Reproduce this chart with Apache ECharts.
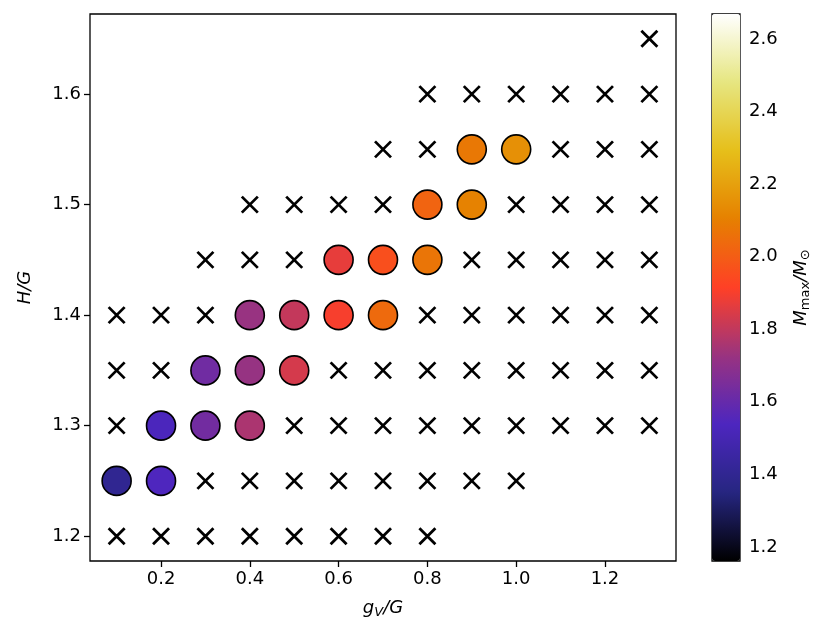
<!DOCTYPE html>
<html>
<head>
<meta charset="utf-8">
<script src="https://cdn.jsdelivr.net/npm/echarts@6/dist/echarts.min.js"></script>
<style>
  html, body { margin: 0; padding: 0; background: #fff; }
  #chart { width: 830px; height: 640px; }
</style>
</head>
<body>
<div id="chart"></div>
<script>
// 没有收敛的参数点 (x 标记)
var crossPoints = [
  [0.1, 1.2], [0.2, 1.2], [0.3, 1.2], [0.4, 1.2], [0.5, 1.2], [0.6, 1.2], [0.7, 1.2], [0.8, 1.2],
  [0.3, 1.25], [0.4, 1.25], [0.5, 1.25], [0.6, 1.25], [0.7, 1.25], [0.8, 1.25], [0.9, 1.25], [1.0, 1.25],
  [0.1, 1.3], [0.5, 1.3], [0.6, 1.3], [0.7, 1.3], [0.8, 1.3], [0.9, 1.3], [1.0, 1.3], [1.1, 1.3], [1.2, 1.3], [1.3, 1.3],
  [0.1, 1.35], [0.2, 1.35], [0.6, 1.35], [0.7, 1.35], [0.8, 1.35], [0.9, 1.35], [1.0, 1.35], [1.1, 1.35], [1.2, 1.35], [1.3, 1.35],
  [0.1, 1.4], [0.2, 1.4], [0.3, 1.4], [0.8, 1.4], [0.9, 1.4], [1.0, 1.4], [1.1, 1.4], [1.2, 1.4], [1.3, 1.4],
  [0.3, 1.45], [0.4, 1.45], [0.5, 1.45], [0.9, 1.45], [1.0, 1.45], [1.1, 1.45], [1.2, 1.45], [1.3, 1.45],
  [0.4, 1.5], [0.5, 1.5], [0.6, 1.5], [0.7, 1.5], [1.0, 1.5], [1.1, 1.5], [1.2, 1.5], [1.3, 1.5],
  [0.7, 1.55], [0.8, 1.55], [1.1, 1.55], [1.2, 1.55], [1.3, 1.55],
  [0.8, 1.6], [0.9, 1.6], [1.0, 1.6], [1.1, 1.6], [1.2, 1.6], [1.3, 1.6],
  [1.3, 1.65]
];

// 收敛点: [gV/G, H/G, Mmax/Msun]
var circlePoints = [
  [0.1, 1.25, 1.40], [0.2, 1.25, 1.54],
  [0.2, 1.3, 1.53], [0.3, 1.3, 1.63], [0.4, 1.3, 1.76],
  [0.3, 1.35, 1.625], [0.4, 1.35, 1.72], [0.5, 1.35, 1.835],
  [0.4, 1.4, 1.725], [0.5, 1.4, 1.805], [0.6, 1.4, 1.90], [0.7, 1.4, 2.04],
  [0.6, 1.45, 1.87], [0.7, 1.45, 1.96], [0.8, 1.45, 2.07],
  [0.8, 1.5, 2.02], [0.9, 1.5, 2.11],
  [0.9, 1.55, 2.08], [1.0, 1.55, 2.15]
];

var xTicks = [0.2, 0.4, 0.6, 0.8, 1.0, 1.2];
var yTicks = [1.2, 1.3, 1.4, 1.5, 1.6];
var cbarTicks = [1.2, 1.4, 1.6, 1.8, 2.0, 2.2, 2.4, 2.6];
var cbarMin = 1.161, cbarMax = 2.669;
// CMRmap
var cmrColors = ['#000000', '#262680', '#4d26bf', '#993380', '#ff4026', '#e68000', '#e6bf1a', '#e6e680', '#ffffff'];

var myChart = echarts.init(document.getElementById('chart'));

var font = 'DejaVu Sans';
var fmt = function (v) { return v.toFixed(1); };

var option = {
  animation: false,
  textStyle: { fontFamily: font, color: '#000' },
  grid: [
    { left: 90, top: 14, width: 586, height: 547, show: true, borderColor: '#000', borderWidth: 1.3, backgroundColor: 'transparent' },
    { left: 712, top: 14, width: 28, height: 547, show: true, borderColor: '#000', borderWidth: 1.3, backgroundColor: 'transparent' }
  ],
  xAxis: [
    {
      type: 'value', gridIndex: 0, min: 0.04, max: 1.36,
      splitLine: { show: false },
      axisLine: { show: false },
      axisTick: { show: true, length: 6, lineStyle: { color: '#000', width: 1.3 }, customValues: xTicks },
      axisLabel: { customValues: xTicks, formatter: fmt, fontSize: 18, color: '#000', margin: 9, fontFamily: font },
      name: '{i|g}{s|V}{n|/}{i|G}',
      nameLocation: 'middle',
      nameGap: 36,
      nameTextStyle: {
        rich: {
          i: { fontSize: 18, fontStyle: 'italic', fontFamily: font, lineHeight: 22, verticalAlign: 'middle' },
          n: { fontSize: 18, fontStyle: 'italic', fontFamily: font, lineHeight: 22, verticalAlign: 'middle' },
          s: { fontSize: 13, fontStyle: 'italic', fontFamily: font, lineHeight: 13, verticalAlign: 'bottom' }
        }
      }
    },
    { type: 'value', gridIndex: 1, min: 0, max: 1, show: false }
  ],
  yAxis: [
    {
      type: 'value', gridIndex: 0, min: 1.1775, max: 1.6725,
      splitLine: { show: false },
      axisLine: { show: false },
      axisTick: { show: true, length: 6, lineStyle: { color: '#000', width: 1.3 }, customValues: yTicks },
      axisLabel: { customValues: yTicks, formatter: fmt, fontSize: 18, color: '#000', margin: 9, fontFamily: font },
      name: 'H/G',
      nameLocation: 'middle',
      nameGap: 56,
      nameRotate: 90,
      nameTextStyle: { fontSize: 18, fontStyle: 'italic', fontFamily: font, color: '#000' }
    },
    {
      type: 'value', gridIndex: 1, min: cbarMin, max: cbarMax, position: 'right',
      splitLine: { show: false },
      axisLine: { show: false },
      axisTick: { show: true, length: 6, lineStyle: { color: '#000', width: 1.3 }, customValues: cbarTicks },
      axisLabel: { customValues: cbarTicks, formatter: fmt, fontSize: 18, color: '#000', margin: 9, fontFamily: font },
      name: '{i|M}{s|max}{n|/}{i|M}{s|⊙}',
      nameLocation: 'middle',
      nameGap: 50,
      nameRotate: 90,
      nameTextStyle: {
        rich: {
          i: { fontSize: 18, fontStyle: 'italic', fontFamily: font, lineHeight: 22, verticalAlign: 'middle' },
          n: { fontSize: 18, fontStyle: 'italic', fontFamily: font, lineHeight: 22, verticalAlign: 'middle' },
          s: { fontSize: 13, fontFamily: font, lineHeight: 13, verticalAlign: 'bottom' }
        }
      }
    }
  ],
  visualMap: {
    type: 'continuous',
    show: true,
    seriesIndex: 1,
    dimension: 2,
    min: cbarMin,
    max: cbarMax,
    calculable: false,
    orient: 'vertical',
    left: 712,
    top: 14,
    itemWidth: 28,
    itemHeight: 547,
    padding: 0,
    text: null,
    showLabel: false,
    inRange: { color: cmrColors }
  },
  series: [
    {
      name: 'cross',
      type: 'scatter',
      xAxisIndex: 0, yAxisIndex: 0,
      symbol: 'path://M0,0L10,10M10,0L0,10',
      symbolSize: 16,
      itemStyle: { color: 'transparent', borderColor: '#000', borderWidth: 2.8, opacity: 1 },
      emphasis: { disabled: true },
      data: crossPoints,
      z: 3
    },
    {
      name: 'mmax',
      type: 'scatter',
      xAxisIndex: 0, yAxisIndex: 0,
      symbol: 'circle',
      symbolSize: 29,
      itemStyle: { borderColor: '#000', borderWidth: 1.6, opacity: 1 },
      emphasis: { disabled: true },
      data: circlePoints,
      z: 4
    },
    {
      name: 'cbar',
      type: 'scatter',
      xAxisIndex: 1, yAxisIndex: 1,
      data: []
    }
  ]
};

myChart.setOption(option);
</script>
</body>
</html>
